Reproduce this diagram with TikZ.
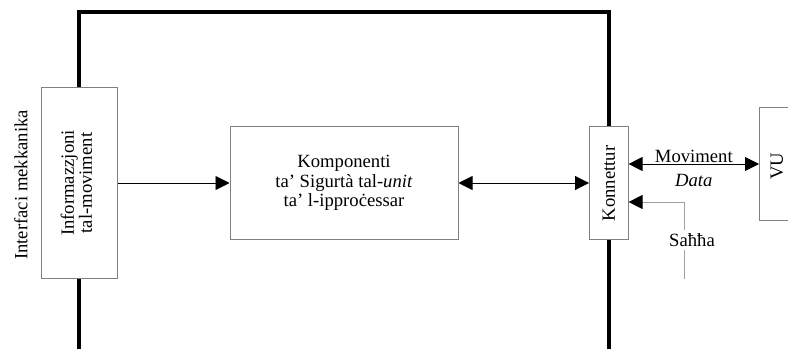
\documentclass[tikz,border=0pt]{standalone}
\usepackage{fontspec}
\setmainfont{Liberation Serif}
\usetikzlibrary{arrows.meta}
\definecolor{boxgray}{RGB}{128,128,128}
\definecolor{linegray}{RGB}{160,160,160}
\begin{document}
\begin{tikzpicture}[x=0.75pt,y=-0.75pt,
  every node/.style={font=\fontsize{14pt}{14.6pt}\selectfont},
  box/.style={draw=boxgray,fill=white,line width=0.75pt,inner sep=0pt,align=center},
  frame/.style={line width=3pt,line join=miter},
  tipp/.tip={Triangle[length=10.5pt,width=10.5pt,color=black]},
  conn/.style={line width=0.7pt,-tipp},
  dconn/.style={line width=0.7pt,tipp-tipp}]
\clip (0,0) rectangle (788,349);
% thick frame
\coordinate (bl) at (78.5,360);
\coordinate (tl) at (78.5,12.5);
\coordinate (tr) at (608.5,12.5);
\coordinate (br) at (608.5,360);
\draw[frame] (bl) -- (tl) -- (tr) -- (br);
% boxes
\node[box,minimum width=57pt,minimum height=142.5pt] (inf) at (79,183)
  {\rotatebox{90}{\begin{tabular}{@{}c@{}}Informazzjoni\\[-1.2pt]tal-moviment\end{tabular}}};
\node[box,minimum width=171pt,minimum height=84pt] (cen) at (344,183)
  {Komponenti\\ta' Sigurtà tal-\textit{unit}\\ta' l-ipproċessar};
\node[box,minimum width=28.9pt,minimum height=85pt] (kon) at (608.8,183.3)
  {\rotatebox{90}{Konnettur}};
\node[box,minimum width=30.75pt,minimum height=84.75pt] (vu) at (780,164)
  {};
\node[anchor=center] (vut) at (777,166) {\rotatebox{90}{VU}};
\node[rotate=90] (mek) at (21,185) {Interfaci mekkanika};
% connectors
\draw[conn] (inf.east) -- (cen.west);
\draw[dconn] (cen.east) -- (cen.east -| kon.west);
\draw[dconn] (vu.west -| kon.east) -- (vu.west)
  node[midway,above,inner sep=0.5pt] (mov) {Moviment}
  node[midway,below=7pt,inner sep=0pt] (dat) {\textit{Data}};
\coordinate (sb) at (684,278.5);
\coordinate (sc) at (684,202);
\draw[line width=0.7pt,draw=linegray,-tipp] (sb) -- (sc) -- (sc -| kon.east);
\node[fill=white,inner sep=2.5pt] (sah) at (692,240) {Saħħa};
\end{tikzpicture}
\end{document}
